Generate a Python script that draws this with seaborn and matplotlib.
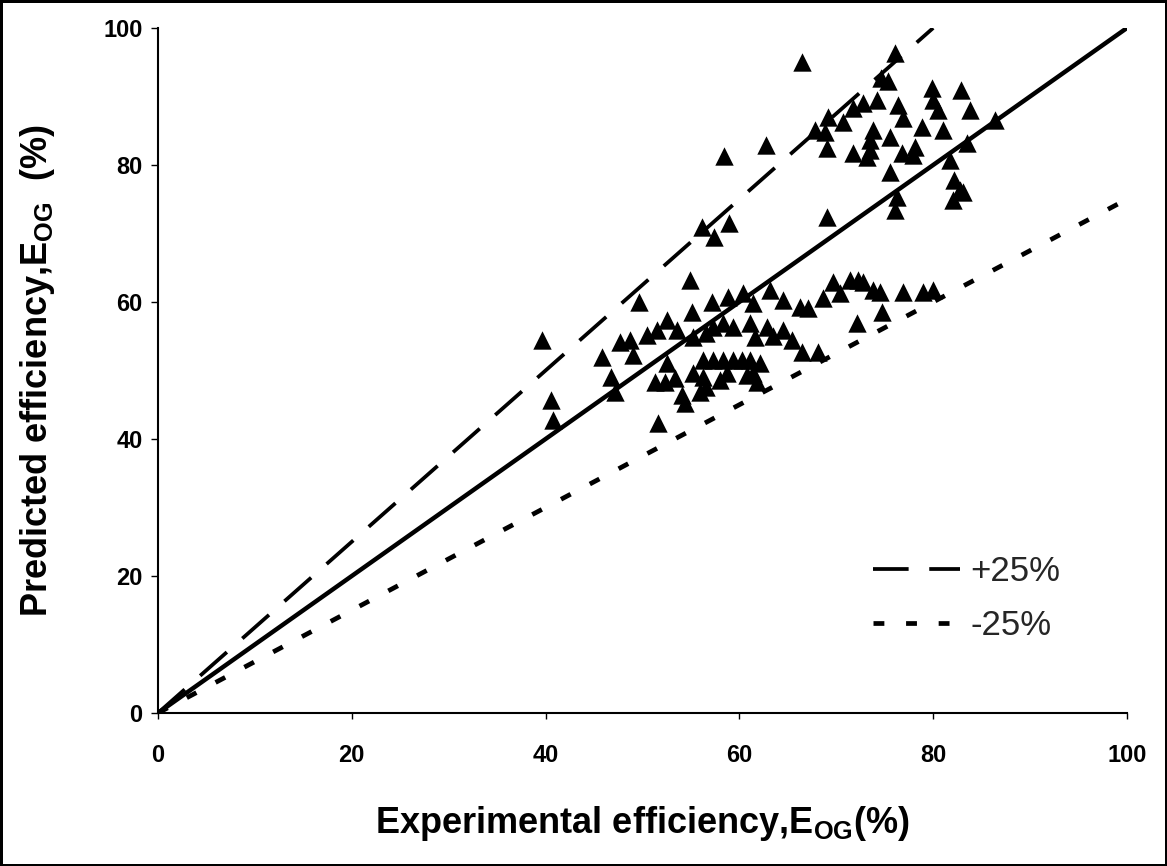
import matplotlib
matplotlib.use("Agg")
import matplotlib.pyplot as plt
import seaborn as sns
import pandas as pd

# ---- data ----
exp_x = [
    # upper cluster
    66.5, 76.1, 74.6, 75.3, 69.1, 70.7, 71.7, 72.8, 74.2, 67.8, 68.8, 69.0,
    76.4, 76.9, 73.8, 73.5, 73.5, 75.5, 71.7, 73.2, 76.8, 78.1, 77.9, 78.8,
    79.9, 80.0, 80.5, 81.0, 82.9, 83.8, 75.5, 76.3, 76.1, 81.7, 83.5, 86.4,
    82.2, 82.8, 82.0, 83.1, 62.7, 58.4, 58.9, 56.1, 57.4, 69.0,
    # left points
    39.6, 40.6, 40.8,
    # lower cluster (left part)
    54.9, 49.6, 45.8, 47.7, 48.7, 49.0, 46.8, 47.2, 50.5, 51.5, 52.5, 53.6,
    55.1, 57.2, 58.8, 57.3, 55.2, 56.6, 58.3, 59.3, 60.4, 61.4, 63.2, 61.6,
    62.9, 61.1, 52.5, 51.3, 52.3, 53.4, 54.1, 54.4, 51.6, 55.2, 56.2, 57.3,
    58.3, 59.3, 60.3, 61.1, 62.1, 56.2, 56.6, 55.9, 58.0, 58.7, 60.8, 61.8,
    61.4,
    # lower cluster (right part)
    69.7, 71.4, 72.2, 72.8, 73.8, 74.5, 68.6, 70.4, 64.5, 66.3, 67.1, 76.9,
    78.9, 80.0, 74.7, 72.1, 66.5, 68.1, 64.5, 65.4, 63.5,
]
pred_y = [
    # upper cluster
    95.1, 96.4, 92.7, 92.2, 87.0, 86.3, 88.3, 89.0, 89.5, 85.1, 84.8, 82.5,
    88.8, 86.9, 85.1, 83.6, 82.2, 84.1, 81.8, 81.2, 81.8, 82.6, 81.5, 85.5,
    91.2, 89.5, 88.0, 85.1, 90.9, 88.0, 79.0, 75.3, 73.4, 80.7, 83.2, 86.6,
    77.8, 76.4, 74.9, 76.1, 82.9, 81.3, 71.5, 71.0, 69.5, 72.4,
    # left points
    54.5, 45.7, 42.8,
    # lower cluster (left part)
    63.2, 60.0, 52.0, 54.2, 54.5, 52.3, 49.1, 46.9, 55.2, 55.9, 57.4, 55.9,
    58.5, 60.0, 60.7, 56.4, 54.9, 55.5, 56.9, 56.4, 61.3, 59.9, 61.8, 54.9,
    56.4, 56.9, 51.1, 48.3, 48.3, 48.9, 46.4, 45.3, 42.3, 49.6, 51.5, 51.5,
    51.5, 51.5, 51.5, 51.5, 51.1, 49.1, 47.6, 46.9, 48.6, 49.6, 49.3, 48.3,
    49.6,
    # lower cluster (right part)
    62.9, 63.2, 63.2, 62.9, 61.8, 61.5, 60.6, 61.3, 60.3, 59.3, 59.1, 61.5,
    61.5, 61.8, 58.5, 56.9, 52.7, 52.7, 55.9, 54.5, 55.0,
]

parity_x = [0, 100]
parity_y = [0, 100]
plus_x = [0, 80]
plus_y = [0, 100]
minus_x = [0, 100]
minus_y = [0, 75]

x_ticks = [0, 20, 40, 60, 80, 100]
y_ticks = [0, 20, 40, 60, 80, 100]

xlabel = r"Experimental efficiency,E$_{\mathregular{OG}}$(%)"
ylabel = r"Predicted efficiency,E$_{\mathregular{OG}}$  (%)"
legend_labels = ["+25%", "-25%"]

# ---- style ----
sns.set_style("white")
plt.rcParams["font.family"] = ["Liberation Sans", "DejaVu Sans"]

fig = plt.figure(figsize=(11.67, 8.66), dpi=100,
                 edgecolor="black", linewidth=2.5)
ax = fig.add_axes([0.1354, 0.1767, 0.8303, 0.7910])

df = pd.DataFrame({"x": exp_x, "y": pred_y})
sns.scatterplot(data=df, x="x", y="y", marker="^", s=175, color="black",
                edgecolor="black", linewidth=0, ax=ax, zorder=3, legend=False)

sns.lineplot(x=parity_x, y=parity_y, color="black", lw=3.2, ax=ax,
             zorder=4, legend=False)
l_plus, = ax.plot(plus_x, plus_y, color="black", lw=2.7,
                  dashes=(9.5, 5.5), zorder=4)
l_minus, = ax.plot(minus_x, minus_y, color="black", lw=3.4,
                   dashes=(2.3, 4.6), zorder=4)

ax.set_xlim(0, 100)
ax.set_ylim(0, 100)
ax.set_xticks(x_ticks)
ax.set_yticks(y_ticks)
ax.set_xticklabels([str(t) for t in x_ticks], fontsize=17, fontweight="bold")
ax.set_yticklabels([str(t) for t in y_ticks], fontsize=17, fontweight="bold")

for s in ["top", "right"]:
    ax.spines[s].set_visible(False)
for s in ["left", "bottom"]:
    ax.spines[s].set_color("black")
    ax.spines[s].set_linewidth(1.5)

ax.tick_params(axis="x", direction="out", length=4, width=1, pad=18,
               colors="black", bottom=True)
ax.tick_params(axis="y", direction="out", length=5, width=1, pad=6,
               colors="black", left=True)

ax.set_xlabel(xlabel, fontsize=26, fontweight="bold", color="black")
ax.set_ylabel(ylabel, fontsize=26, fontweight="bold", color="black")
ax.xaxis.set_label_coords(0.5, -0.133)
ax.yaxis.set_label_coords(-0.104, 0.5)

leg = ax.legend([l_plus, l_minus], legend_labels, loc="center left",
                bbox_to_anchor=(0.738, 0.167), frameon=False, fontsize=25,
                handlelength=2.5, handletextpad=0.3, labelspacing=0.6,
                borderaxespad=0, borderpad=0)

fig.savefig("out.png", dpi=100, edgecolor=fig.get_edgecolor())
